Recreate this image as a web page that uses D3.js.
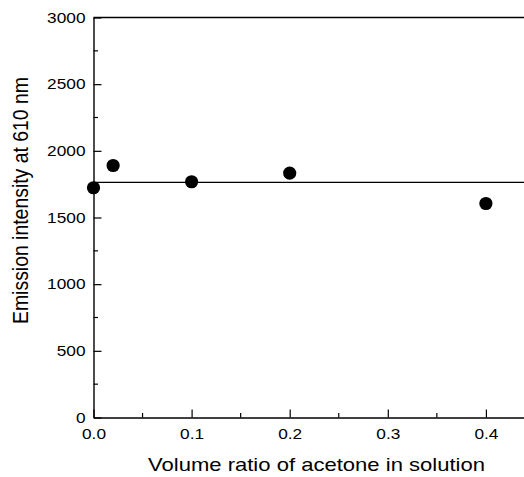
<!DOCTYPE html>
<html><head><meta charset="utf-8">
<script src="https://cdn.jsdelivr.net/npm/d3@7"></script>
<style>
body{margin:0;background:#fff;}
text{font-family:"Liberation Sans",Arial,Helvetica,sans-serif;fill:#000;}
</style></head>
<body>
<script>
const xValues = [0.0, 0.02, 0.1, 0.2, 0.4];
const yValues = [1723, 1890, 1768, 1833, 1605];
const fitLevel = [1763];
const xMajorTicks = [0.0, 0.1, 0.2, 0.3, 0.4];
const xMinorTicks = [0.05, 0.15, 0.25, 0.35];
const yMajorTicks = [0, 500, 1000, 1500, 2000, 2500, 3000];
const yMinorTicks = [250, 750, 1250, 1750, 2250, 2750];
const xTitle = "Volume ratio of acetone in solution";
const yTitle = "Emission intensity at 610 nm";

const W = 524, H = 477;
const svg = d3.select("body").append("svg").attr("width", W).attr("height", H);

const x = d3.scaleLinear().domain([0, 0.44]).range([93.5, 93.5 + 0.44 * 981]);
const y = d3.scaleLinear().domain([0, 3000]).range([417.5, 17.5]);
const stretch = 1.19;

// Y axis
const yAxis = d3.axisLeft(y).tickValues(yMajorTicks).tickSizeInner(-8).tickSizeOuter(0).tickPadding(8).tickFormat(d3.format("d"));
const gy = svg.append("g").attr("transform", `translate(${x(0)},0)`).call(yAxis);
gy.append("g").selectAll("line").data(yMinorTicks).join("line")
  .attr("x1", 0).attr("x2", 4.5).attr("y1", d => y(d)).attr("y2", d => y(d)).attr("stroke", "#000").attr("stroke-width", 1.2);

// X axis
const xAxis = d3.axisBottom(x).tickValues(xMajorTicks).tickSizeInner(-8).tickSizeOuter(0).tickPadding(18).tickFormat(d3.format(".1f"));
const gx = svg.append("g").attr("transform", `translate(0,${y(0)})`).call(xAxis);
gx.append("g").selectAll("line").data(xMinorTicks).join("line")
  .attr("x1", d => x(d)).attr("x2", d => x(d)).attr("y1", 0).attr("y2", -4.5).attr("stroke", "#000").attr("stroke-width", 1.2);

[gx, gy].forEach(g => {
  g.attr("font-size", 14).attr("font-family", '"Liberation Sans",Arial,sans-serif');
  g.select(".domain").attr("stroke", "#000").attr("stroke-width", 1.4);
  g.selectAll(".tick line").attr("stroke", "#000").attr("stroke-width", 1.2);
  g.selectAll(".tick text").attr("font-size", 14.5).attr("fill", "#000")
    .each(function(){ const l = this.getComputedTextLength(); d3.select(this).attr("textLength", l * stretch).attr("lengthAdjust", "spacingAndGlyphs"); });
});
gx.selectAll(".tick text").attr("dy", "0.32em").attr("y", 17);

// Top frame line
svg.append("line").attr("x1", x(0)).attr("x2", W).attr("y1", y(3000)).attr("y2", y(3000))
  .attr("stroke", "#000").attr("stroke-width", 1.6);

// Horizontal fit line
svg.append("g").selectAll("line").data(fitLevel).join("line")
  .attr("x1", x(0)).attr("x2", W).attr("y1", d => y(d)).attr("y2", d => y(d))
  .attr("stroke", "#000").attr("stroke-width", 1.3);

// Points
svg.append("g").selectAll("circle").data(xValues.map((v, i) => [v, yValues[i]])).join("circle")
  .attr("cx", d => x(d[0])).attr("cy", d => y(d[1])).attr("r", 6.6).attr("fill", "#000");

// Titles
svg.append("text").attr("x", (148 + 485) / 2).attr("y", 471).attr("text-anchor", "middle")
  .attr("font-size", 18.5).attr("textLength", 337).attr("lengthAdjust", "spacingAndGlyphs").text(xTitle);
svg.append("text").attr("transform", `translate(28,${(77 + 324) / 2}) scale(${stretch},1) rotate(-90)`).attr("text-anchor", "middle")
  .attr("font-size", 18).attr("textLength", 247).attr("lengthAdjust", "spacingAndGlyphs").text(yTitle);
</script>
</body></html>
